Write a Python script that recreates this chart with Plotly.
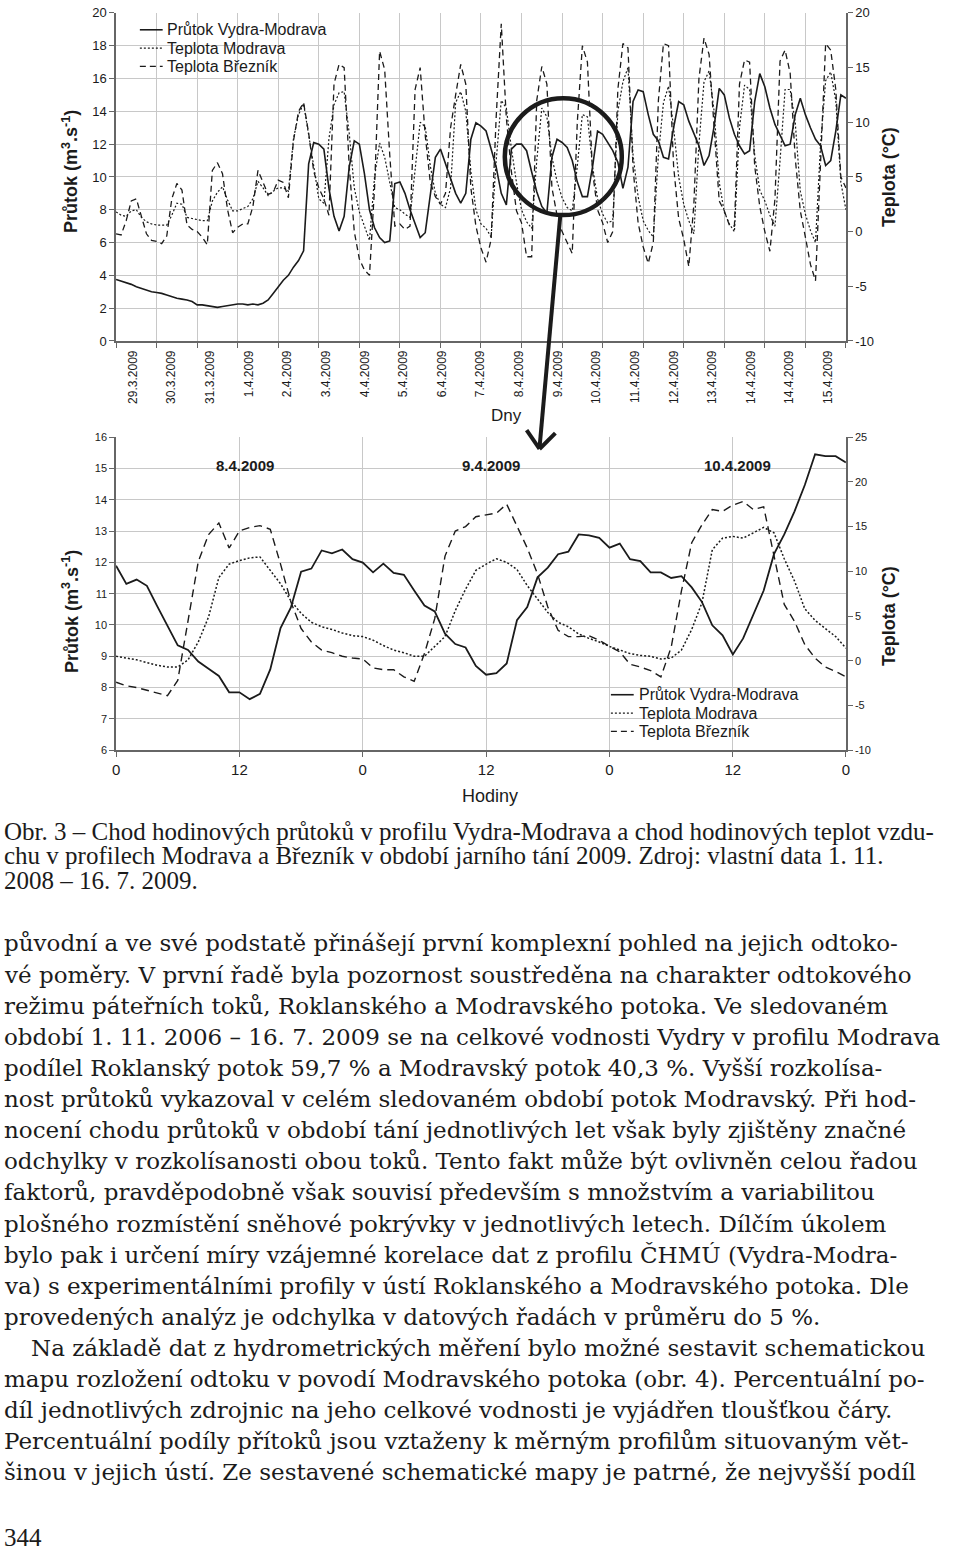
import plotly.graph_objects as go

# ---------------------------------------------------------------- top chart data
# 29.3.2009 - 15.4.2009, values read every 3 hours
hours_top = list(range(0, 433, 3))
day_labels = ["29.3.2009", "30.3.2009", "31.3.2009", "1.4.2009", "2.4.2009", "3.4.2009",
              "4.4.2009", "5.4.2009", "6.4.2009", "7.4.2009", "8.4.2009", "9.4.2009",
              "10.4.2009", "11.4.2009", "12.4.2009", "13.4.2009", "14.4.2009", "14.4.2009",
              "15.4.2009"]

flow_top = [  # Průtok Vydra-Modrava (m3/s)
    3.75, 3.65, 3.55, 3.45, 3.3, 3.2, 3.1, 3.0,
    2.95, 2.9, 2.8, 2.7, 2.6, 2.55, 2.5, 2.4,
    2.2, 2.2, 2.15, 2.1, 2.05, 2.1, 2.15, 2.2,
    2.25, 2.25, 2.2, 2.25, 2.2, 2.3, 2.5, 2.9,
    3.3, 3.7, 4.0, 4.5, 4.9, 5.5, 10.8, 12.1,
    12.0, 11.7, 9.3, 7.6, 6.7, 7.6, 10.6, 12.2,
    12.0, 10.2, 8.0, 6.9, 6.3, 6.0, 6.1, 9.6,
    9.7, 9.0, 8.0, 7.2, 6.3, 6.6, 8.8, 11.2,
    11.7, 10.8, 9.9, 9.0, 8.4, 9.0, 12.3, 13.3,
    13.1, 12.8, 11.7, 10.6, 9.0, 8.3, 11.7, 12.0,
    12.0, 11.6, 10.3, 9.1, 8.2, 7.8, 11.2, 12.3,
    12.1, 11.8, 11.0, 9.7, 8.8, 8.8, 10.6, 12.8,
    12.6, 12.1, 11.6, 10.9, 9.3, 10.6, 14.6, 15.3,
    15.2, 13.8, 12.6, 12.2, 11.2, 11.1, 13.0, 14.6,
    14.4, 13.4, 12.7, 11.9, 10.7, 11.3, 13.1, 15.4,
    15.0, 13.6, 12.6, 11.9, 11.4, 11.6, 14.6, 16.3,
    15.5, 14.2, 13.2, 12.5, 11.9, 12.0, 13.8, 14.8,
    13.8, 13.0, 12.3, 11.9, 10.7, 11.0, 12.8, 15.0,
    14.8]

modrava_top = [  # Teplota Modrava (°C)
    1.8, 1.5, 1.4, 1.9, 2.0, 1.3, 0.9, 0.7,
    0.6, 0.6, 0.6, 1.5, 2.6, 2.5, 1.3, 1.2,
    1.1, 1.0, 1.0, 2.8, 3.6, 4.1, 2.9, 1.9,
    1.9, 2.1, 2.3, 3.0, 4.6, 4.0, 3.3, 3.7,
    4.0, 4.0, 3.7, 8.5, 10.7, 11.7, 9.0, 6.0,
    3.0, 2.6, 8.5, 11.6, 12.7, 12.8, 9.0, 4.0,
    1.8, 0.4, -0.8, 5.0, 8.1, 6.8, 4.5, 2.2,
    2.0, 1.6, 1.3, 5.5, 10.0, 9.6, 6.0, 3.5,
    2.5, 2.2, 4.0, 11.8, 12.8, 11.0, 5.5, 2.0,
    0.7, 0.3, -0.5, 6.5, 12.0, 11.3, 7.6, 4.5,
    2.0, 0.9, 0.3, 6.5, 11.3, 10.5, 6.8, 4.6,
    3.1, 2.2, 1.9, 6.0, 10.7, 10.5, 6.0, 3.0,
    1.6, 0.8, 1.0, 11.0, 13.7, 15.0, 7.0, 3.2,
    1.0, 0.1, -0.5, 7.0, 11.8, 13.3, 9.5, 5.0,
    2.5, 1.0, -0.2, 8.0, 13.7, 14.7, 11.0, 4.5,
    1.8, 0.7, 0.0, 9.5, 13.4, 13.0, 7.0, 3.8,
    2.8, 1.5, 0.5, 6.5, 13.0, 13.0, 10.0, 3.7,
    1.6, 0.1, -1.0, 8.0, 13.8, 14.6, 12.0, 4.5,
    2.0]

breznik_top = [  # Teplota Březník (°C)
    -0.2, -0.3, 1.0, 2.8, 3.0, 1.3, -0.2, -0.8,
    -0.9, -1.1, -0.4, 3.0, 4.4, 3.8, 0.6, 0.2,
    0.0, -0.5, -1.2, 5.6, 6.3, 5.3, 2.0, -0.1,
    0.4, 0.7, 0.7, 2.3, 5.6, 4.5, 3.4, 3.6,
    4.7, 4.5, 3.1, 8.3, 11.0, 11.8, 9.0, 5.5,
    4.0, 3.0, 1.5, 13.5, 15.3, 15.0, 6.0, 0.0,
    -2.5, -3.5, -4.0, 4.0, 16.5, 14.8, 7.0, 0.5,
    0.7, 0.2, 0.5, 13.0, 15.0, 8.8, 4.5, 3.2,
    2.5, 3.5, 9.5, 12.5, 15.3, 13.5, 4.0, 0.5,
    -1.5, -2.8, -0.7, 10.5, 19.0, 10.4, 5.5, 1.9,
    0.8, -2.3, -2.3, 12.0, 15.1, 13.5, 4.0, 1.5,
    0.0, -1.0, -2.0, 10.0, 17.0, 15.5, 5.5, 2.0,
    0.8, -1.0, 0.0, 13.0, 17.2, 16.8, 5.8, 0.8,
    -1.4, -2.9, -1.0, 12.0, 17.2, 17.0, 6.0, 1.2,
    -0.7, -3.2, 2.5, 14.0, 17.7, 16.2, 9.5, 2.8,
    1.9, 0.6, 0.5, 13.5, 15.7, 15.5, 6.0, 2.3,
    0.0, -1.8, 3.0, 15.6, 16.6, 14.5, 6.7, 1.9,
    -0.5, -3.0, -4.5, 7.0, 17.2, 16.6, 13.0, 5.0,
    4.0]

temp_ticks_top = [-10, -5, 0, 5, 10, 15, 20]
temp_ticks_bot = [-10, -5, 0, 5, 10, 15, 20, 25]

# ------------------------------------------------------------- bottom chart data
# 8.4.2009 0 h - 10.4.2009 23 h, hourly
hours_bot = list(range(72))
hour_ticks = [0, 12, 24, 36, 48, 60, 71]
hour_ticktext = ["0", "12", "0", "12", "0", "12", "0"]
bot_dates = ["8.4.2009", "9.4.2009", "10.4.2009"]
bot_date_hours = [12.5, 36.5, 60.5]

flow_bot = [
    11.89, 11.31, 11.45, 11.25, 10.6, 10.0, 9.35, 9.2, 8.83, 8.6,
    8.37, 7.85, 7.85, 7.63, 7.8, 8.58, 9.9, 10.55, 11.7, 11.8,
    12.38, 12.29, 12.41, 12.1, 11.99, 11.68, 11.96, 11.66, 11.6, 11.1,
    10.62, 10.43, 9.72, 9.39, 9.28, 8.69, 8.41, 8.46, 8.77, 10.15,
    10.57, 11.52, 11.83, 12.26, 12.34, 12.89, 12.86, 12.78, 12.47, 12.6,
    12.1, 12.04, 11.68, 11.68, 11.5, 11.56, 11.2, 10.73, 9.99, 9.67,
    9.06, 9.57, 10.36, 11.1, 12.26, 12.89, 13.63, 14.47, 15.45, 15.39,
    15.39, 15.19]

modrava_bot = [
    0.5, 0.3, 0.1, -0.2, -0.5, -0.7, -0.7, 0.1, 2.1, 4.9,
    9.3, 10.8, 11.2, 11.5, 11.6, 10.1, 8.6, 6.7, 5.3, 4.3,
    3.8, 3.5, 3.1, 2.8, 2.7, 2.3, 1.7, 1.2, 0.9, 0.5,
    0.5, 1.6, 2.7, 5.6, 8.0, 10.1, 10.8, 11.4, 11.0, 10.2,
    8.4, 6.9, 5.4, 4.3, 3.8, 3.0, 2.5, 2.1, 1.6, 1.2,
    0.8, 0.6, 0.5, 0.2, 0.3, 1.2, 3.5, 6.5, 12.4, 13.7,
    13.9, 13.7, 14.3, 14.9, 14.3, 11.4, 8.9, 5.8, 4.5, 3.6,
    2.7, 1.4]

breznik_bot = [
    -2.4, -2.8, -3.0, -3.3, -3.6, -3.9, -2.2, 4.3, 11.1, 14.1,
    15.4, 12.6, 14.5, 14.9, 15.1, 14.7, 10.8, 6.6, 3.6, 2.1,
    1.2, 0.9, 0.5, 0.3, 0.2, -0.8, -1.0, -1.0, -1.8, -2.3,
    0.8, 4.7, 11.7, 14.5, 15.0, 16.1, 16.3, 16.5, 17.5, 15.0,
    12.6, 9.7, 6.0, 3.4, 2.7, 2.7, 2.8, 2.3, 1.6, 1.0,
    -0.4, -0.7, -1.1, -1.8, 1.5, 7.8, 13.2, 15.2, 16.9, 16.7,
    17.4, 17.8, 16.9, 17.2, 11.9, 6.3, 4.4, 1.8, 0.3, -0.7,
    -1.2, -1.8]

series_names = ["Průtok Vydra-Modrava", "Teplota Modrava", "Teplota Březník"]

# ------------------------------------------------------------------ page texts
caption_lines = [
    "Obr. 3 – Chod hodinových průtoků v profilu Vydra-Modrava a chod hodinových teplot vzdu-",
    "chu v profilech Modrava a Březník v období jarního tání 2009. Zdroj: vlastní data 1. 11.",
    "2008 – 16. 7. 2009.",
]
body_lines = [
    "původní a ve své podstatě přinášejí první komplexní pohled na jejich odtoko-",
    "vé poměry. V první řadě byla pozornost soustředěna na charakter odtokového",
    "režimu páteřních toků, Roklanského a Modravského potoka. Ve sledovaném",
    "období 1. 11. 2006 – 16. 7. 2009 se na celkové vodnosti Vydry v profilu Modrava",
    "podílel Roklanský potok 59,7 % a Modravský potok 40,3 %. Vyšší rozkolísa-",
    "nost průtoků vykazoval v celém sledovaném období potok Modravský. Při hod-",
    "nocení chodu průtoků v období tání jednotlivých let však byly zjištěny značné",
    "odchylky v rozkolísanosti obou toků. Tento fakt může být ovlivněn celou řadou",
    "faktorů, pravděpodobně však souvisí především s množstvím a variabilitou",
    "plošného rozmístění sněhové pokrývky v jednotlivých letech. Dílčím úkolem",
    "bylo pak i určení míry vzájemné korelace dat z profilu ČHMÚ (Vydra-Modra-",
    "va) s experimentálními profily v ústí Roklanského a Modravského potoka. Dle",
    "provedených analýz je odchylka v datových řadách v průměru do 5 %.",
    "Na základě dat z hydrometrických měření bylo možné sestavit schematickou",
    "mapu rozložení odtoku v povodí Modravského potoka (obr. 4). Percentuální po-",
    "díl jednotlivých zdrojnic na jeho celkové vodnosti je vyjádřen tloušťkou čáry.",
    "Percentuální podíly přítoků jsou vztaženy k měrným profilům situovaným vět-",
    "šinou v jejich ústí. Ze sestavené schematické mapy je patrné, že nejvyšší podíl",
]
page_number = "344"

# ------------------------------------------------------------------- styling
W, H = 960, 1550
INK = "#1b1b1b"
GRID = "#c8c8c8"
AXIS = "#666666"
SANS = "Liberation Sans, Arial, sans-serif"
SERIF_BODY = "DejaVu Serif, serif"
SERIF_CAP = "Liberation Serif, serif"
DOT = "2px,2px"
DASH_TOP = "6px,4px"
DASH_BOT = "8px,5px"


def px(x):
    return x / W


def py(y):
    return 1 - y / H


XD = [px(113), px(849)]
YT = [py(338), py(7)]
YB = [py(751), py(435)]

fig = go.Figure()

# top chart traces
fig.add_trace(go.Scatter(x=hours_top, y=flow_top, mode="lines", name=series_names[0],
                         line=dict(color=INK, width=1.6), xaxis="x", yaxis="y", showlegend=False))
fig.add_trace(go.Scatter(x=hours_top, y=modrava_top, mode="lines", name=series_names[1],
                         line=dict(color=INK, width=1.2, dash=DOT), xaxis="x", yaxis="y2",
                         showlegend=False))
fig.add_trace(go.Scatter(x=hours_top, y=breznik_top, mode="lines", name=series_names[2],
                         line=dict(color=INK, width=1.3, dash=DASH_TOP), xaxis="x", yaxis="y2",
                         showlegend=False))

# bottom chart traces
fig.add_trace(go.Scatter(x=hours_bot, y=flow_bot, mode="lines", name=series_names[0],
                         line=dict(color=INK, width=1.8), xaxis="x3", yaxis="y3", showlegend=False))
fig.add_trace(go.Scatter(x=hours_bot, y=modrava_bot, mode="lines", name=series_names[1],
                         line=dict(color=INK, width=1.5, dash=DOT), xaxis="x3", yaxis="y4",
                         showlegend=False))
fig.add_trace(go.Scatter(x=hours_bot, y=breznik_bot, mode="lines", name=series_names[2],
                         line=dict(color=INK, width=1.4, dash=DASH_BOT), xaxis="x3", yaxis="y4",
                         showlegend=False))

axis_common = dict(showline=True, linecolor=AXIS, linewidth=1.5, zeroline=False,
                   ticks="outside", ticklen=5, tickcolor=AXIS, tickwidth=1)

label_hours = [10 + 22.86 * k for k in range(len(day_labels))]

fig.update_layout(
    width=W, height=H, margin=dict(l=0, r=0, t=0, b=0),
    paper_bgcolor="white", plot_bgcolor="white", showlegend=False,
    xaxis=dict(domain=XD, anchor="y", range=[0, 432], tickmode="array",
               tickvals=label_hours, ticktext=day_labels, tickangle=-90,
               showgrid=False, showline=True, linecolor=AXIS, linewidth=1.5, zeroline=False,
               ticks="", ticklabelstandoff=3,
               tickfont=dict(family=SANS, size=12, color=INK),
               minor=dict(tick0=0, dtick=24, ticks="outside", ticklen=5, tickcolor=AXIS,
                          showgrid=True, gridcolor=GRID, gridwidth=1.2)),
    yaxis=dict(domain=YT, anchor="x", range=[0, 20], tick0=0, dtick=2, showgrid=True,
               gridcolor=GRID, gridwidth=1.2, tickfont=dict(family=SANS, size=13, color=INK),
               **axis_common),
    yaxis2=dict(overlaying="y", side="right", anchor="x", range=[-10, 20], tickmode="array",
                tickvals=temp_ticks_top, ticktext=[str(v) for v in temp_ticks_top],
                showgrid=False, tickfont=dict(family=SANS, size=13, color=INK), **axis_common),
    xaxis3=dict(domain=XD, anchor="y3", range=[0, 71], tickmode="array", tickvals=hour_ticks,
                ticktext=hour_ticktext, showgrid=True, gridcolor=GRID, gridwidth=1.2,
                tickfont=dict(family=SANS, size=15, color=INK), **axis_common),
    yaxis3=dict(domain=YB, anchor="x3", range=[6, 16], tick0=6, dtick=1, showgrid=True,
                gridcolor=GRID, gridwidth=1.2, tickfont=dict(family=SANS, size=11, color=INK),
                **axis_common),
    yaxis4=dict(overlaying="y3", side="right", anchor="x3", range=[-10, 25], tickmode="array",
                tickvals=temp_ticks_bot, ticktext=[str(v) for v in temp_ticks_bot],
                showgrid=False, tickfont=dict(family=SANS, size=11, color=INK), **axis_common),
)

ann = []
shapes = []

# legends (white box hiding the grid, line samples and labels)
legend_boxes = [(127, 328, 12, 71), (612, 813, 684, 742)]
legend_rows = [(137, 160, 164, [24, 42.5, 61]), (612, 635, 640, [695, 713.5, 732])]
legend_styles = [dict(width=1.6), dict(width=1.2, dash=DOT), dict(width=1.3, dash=DASH_TOP)]
for (bx0, bx1, by0, by1), (sx0, sx1, tx, rows) in zip(legend_boxes, legend_rows):
    shapes.append(dict(type="rect", xref="paper", yref="paper", x0=px(bx0), x1=px(bx1),
                       y0=py(by1), y1=py(by0), fillcolor="white", line=dict(width=0),
                       layer="between"))
    for name, ry, st in zip(series_names, rows, legend_styles):
        shapes.append(dict(type="line", xref="paper", yref="paper", x0=px(sx0), x1=px(sx1),
                           y0=py(ry), y1=py(ry), line=dict(color=INK, **st), layer="above"))
        ann.append(dict(text=name, x=px(tx), y=py(ry), xref="paper", yref="paper",
                        xanchor="left", yanchor="middle", showarrow=False, xshift=-2,
                        font=dict(family=SANS, size=16, color=INK)))

# axis titles
for yc in (167, 611):
    ann.append(dict(text="<b>Průtok (m<sup>3</sup>.s<sup>-1</sup>)</b>", x=px(67), y=py(yc),
                    xref="paper", yref="paper", textangle=-90, showarrow=False,
                    font=dict(family=SANS, size=18, color=INK), xanchor="center",
                    yanchor="middle"))
for yc in (173, 616):
    ann.append(dict(text="<b>Teplota (°C)</b>", x=px(893), y=py(yc), xref="paper", yref="paper",
                    textangle=-90, showarrow=False, font=dict(family=SANS, size=18, color=INK),
                    xanchor="center", yanchor="middle"))

ann.append(dict(text="Dny", x=px(507), y=py(413), xref="paper", yref="paper", showarrow=False,
                xanchor="center", yanchor="middle", font=dict(family=SANS, size=17, color=INK)))
ann.append(dict(text="Hodiny", x=px(490), y=py(797), xref="paper", yref="paper", showarrow=False,
                xanchor="center", yanchor="middle", font=dict(family=SANS, size=18, color=INK)))
for t, h in zip(bot_dates, bot_date_hours):
    ann.append(dict(text="<b>" + t + "</b>", x=h, y=15.1, xref="x3", yref="y3", showarrow=False,
                    xanchor="center", yanchor="middle",
                    font=dict(family=SANS, size=15, color=INK)))

# caption
for i, line in enumerate(caption_lines):
    ann.append(dict(text=line, x=0, y=py(833 + 24.5 * i), xref="paper", yref="paper",
                    xanchor="left", yanchor="middle", showarrow=False, xshift=-2,
                    font=dict(family=SERIF_CAP, size=25, color=INK)))
# body
for i, line in enumerate(body_lines):
    indent = 27 if line.startswith("Na základě") else 0
    ann.append(dict(text=line, x=px(indent), y=py(946 + 31.4 * i), xref="paper", yref="paper",
                    xanchor="left", yanchor="middle", showarrow=False, xshift=-2,
                    font=dict(family=SERIF_BODY, size=23, color=INK)))
ann.append(dict(text=page_number, x=0, y=py(1545), xref="paper", yref="paper",
                xanchor="left", yanchor="middle", showarrow=False, xshift=-2,
                font=dict(family=SERIF_CAP, size=25, color=INK)))

# magnifier circle and arrow
shapes += [
    dict(type="circle", xref="paper", yref="paper", x0=px(505), x1=px(623), y0=py(211), y1=py(93),
         line=dict(color=INK, width=4.5), layer="above"),
    dict(type="line", xref="paper", yref="paper", x0=px(561), y0=py(211), x1=px(540), y1=py(446),
         line=dict(color=INK, width=4), layer="above"),
    dict(type="line", xref="paper", yref="paper", x0=px(527), y0=py(428), x1=px(540), y1=py(447),
         line=dict(color=INK, width=4), layer="above"),
    dict(type="line", xref="paper", yref="paper", x0=px(556), y0=py(431), x1=px(540), y1=py(447),
         line=dict(color=INK, width=4), layer="above"),
]
fig.update_layout(annotations=ann, shapes=shapes)

fig.write_html("out.html", config={"displayModeBar": False},
               post_script="document.body.style.margin='0px';"
                           "document.documentElement.style.overflow='hidden';"
                           "document.body.style.overflow='hidden';")
